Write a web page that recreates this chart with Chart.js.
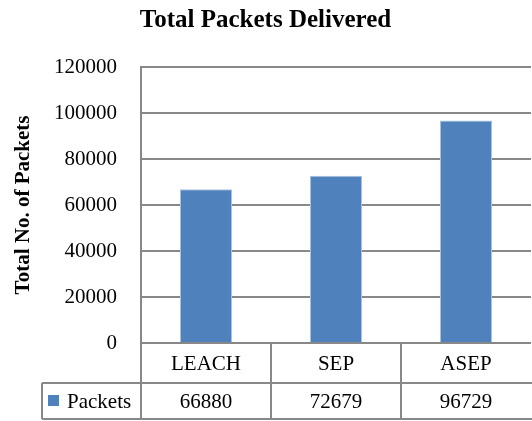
<!DOCTYPE html>
<html>
<head>
<meta charset="utf-8">
<script src="https://cdn.jsdelivr.net/npm/chart.js@4"></script>
<style>
  html, body { margin: 0; padding: 0; background: #fff; overflow: hidden; }
  canvas { display: block; }
</style>
</head>
<body>
<canvas id="grafico" width="532" height="421"></canvas>
<script>
const categorias = ['LEACH', 'SEP', 'ASEP'];
const pacotes = [66880, 72679, 96729];
const serieNome = 'Packets';
const yMin = 0, yMax = 120000, yPasso = 20000;

const azul = '#4F81BD';
const cinza = '#888888';
const fonte = 'Liberation Serif, Times New Roman, serif';

Chart.defaults.font.family = fonte;
Chart.defaults.color = '#000';

// tabela de dados embaixo do grafico (estilo Excel)
const tabelaPlugin = {
  id: 'tabela',
  afterDraw(chart) {
    const ctx = chart.ctx;
    const x = chart.scales.x;
    const area = chart.chartArea;
    const larg = (area.right - area.left) / categorias.length;
    const linha1 = area.bottom + 40;
    const linha2 = area.bottom + 76;
    const legEsq = 42;

    ctx.save();
    ctx.strokeStyle = cinza;
    ctx.lineWidth = 2;
    ctx.beginPath();
    // verticais
    for (let i = 0; i < categorias.length; i++) {
      const xe = Math.round(x.getPixelForValue(i) - larg / 2);
      ctx.moveTo(xe, area.bottom);
      ctx.lineTo(xe, linha2);
    }
    ctx.moveTo(legEsq, linha1);
    ctx.lineTo(legEsq, linha2);
    // horizontais
    ctx.moveTo(legEsq, linha1);
    ctx.lineTo(chart.width, linha1);
    ctx.moveTo(legEsq, linha2);
    ctx.lineTo(chart.width, linha2);
    ctx.stroke();

    ctx.fillStyle = '#000';
    ctx.font = '21px ' + fonte;
    ctx.textAlign = 'center';
    ctx.textBaseline = 'middle';
    categorias.forEach((c, i) => {
      const cx = x.getPixelForValue(i);
      ctx.fillText(c, cx, (area.bottom + linha1) / 2 + 1);
      ctx.fillText(String(pacotes[i]), cx, (linha1 + linha2) / 2 + 1);
    });

    // legenda
    ctx.fillStyle = azul;
    ctx.fillRect(48, linha1 + 12, 11, 11);
    ctx.fillStyle = '#000';
    ctx.textAlign = 'left';
    ctx.fillText(serieNome, 67, (linha1 + linha2) / 2 + 1);
    ctx.restore();
  }
};

new Chart(document.getElementById('grafico').getContext('2d'), {
  type: 'bar',
  data: {
    labels: categorias,
    datasets: [{
      label: serieNome,
      data: pacotes,
      backgroundColor: azul,
      borderColor: '#A9C1DF',
      borderWidth: 1,
      barPercentage: 1,
      categoryPercentage: 0.4
    }]
  },
  options: {
    responsive: false,
    animation: false,
    devicePixelRatio: 1,
    layout: { padding: { left: 0, right: 1, top: 0, bottom: 78 } },
    plugins: {
      legend: { display: false },
      tooltip: { enabled: false },
      title: {
        display: true,
        text: 'Total Packets Delivered',
        color: '#000',
        font: { size: 25, weight: 'bold', family: fonte },
        padding: { top: 6, bottom: 31 }
      }
    },
    scales: {
      x: { display: false },
      y: {
        min: yMin,
        max: yMax,
        afterFit(scale) { scale.width = 141; },
        ticks: {
          stepSize: yPasso,
          padding: 24,
          color: '#000',
          font: { size: 21, family: fonte },
          callback: (v) => String(v)
        },
        grid: { color: cinza, lineWidth: 2, drawTicks: false },
        border: { display: true, color: cinza, width: 2 },
        title: {
          display: true,
          text: 'Total No. of Packets',
          color: '#000',
          font: { size: 21, weight: 'bold', family: fonte },
          padding: { top: 11, bottom: 0 }
        }
      }
    }
  },
  plugins: [tabelaPlugin]
});
</script>
</body>
</html>
